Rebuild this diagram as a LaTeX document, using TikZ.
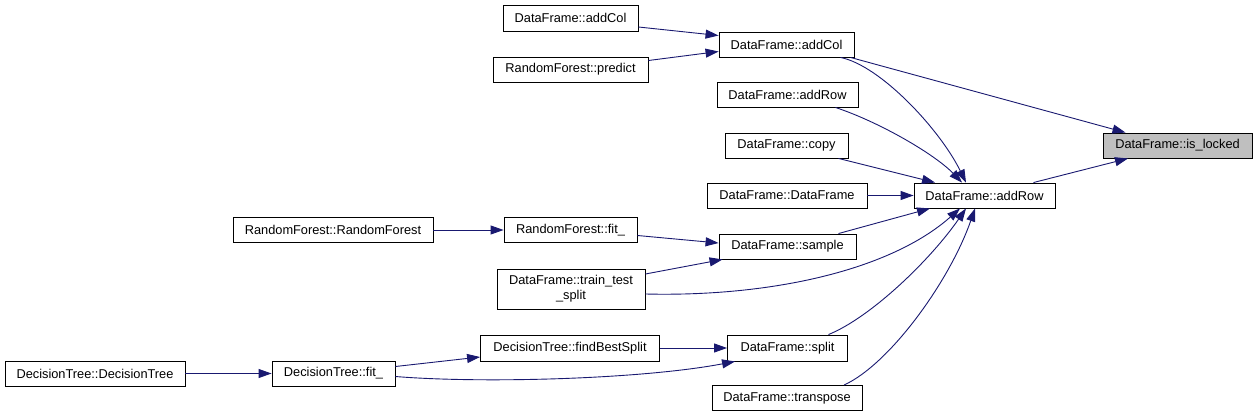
\documentclass[tikz,border=0pt]{standalone}
\usepackage{fontspec}
\setmainfont{Liberation Sans}
\usetikzlibrary{arrows.meta}
\definecolor{edgeblue}{HTML}{191970}
\definecolor{lockgray}{HTML}{BFBFBF}
\begin{document}
\begin{tikzpicture}[x=1pt,y=-1pt,
  fn/.style={draw=black, fill=white, line width=0.9pt, minimum height=25pt, inner sep=0pt,
    font=\fontsize{12.8}{15}\selectfont, anchor=center},
  call/.style={draw=edgeblue, line width=0.9pt, -{Triangle[length=13pt,width=9pt]}}
]
\useasboundingbox (0,0) rectangle (1257,417);

\node[fn, minimum width=135pt, minimum height=26pt] (addColL) at (570.5,18) {DataFrame::addCol};
\node[fn, minimum width=155pt] (predict) at (570.5,69.5) {RandomForest::predict};
\node[fn, minimum width=135pt] (addColM) at (786.5,44.5) {DataFrame::addCol};
\node[fn, minimum width=141pt] (addRowT) at (787.5,94.5) {DataFrame::addRow};
\node[fn, minimum width=123pt] (copy) at (786.5,145.5) {DataFrame::copy};
\node[fn, minimum width=160pt] (dfdf) at (787,195.5) {DataFrame::DataFrame};
\node[fn, minimum width=141pt] (addRowM) at (984.5,195.5) {DataFrame::addRow};
\node[fn, minimum width=137pt] (sample) at (787.5,246.5) {DataFrame::sample};
\node[fn, minimum width=200pt] (rfrf) at (333,230) {RandomForest::RandomForest};
\node[fn, minimum width=133pt] (rffit) at (570.5,230) {RandomForest::fit\_};
\node[fn, minimum width=148pt, minimum height=40pt, align=center] (tts) at (571,289) {DataFrame::train\_test\\\_split};
\node[fn, minimum width=179pt, minimum height=26pt] (fbs) at (570,348) {DecisionTree::findBestSplit};
\node[fn, minimum width=120pt, minimum height=26pt] (split) at (787.5,348) {DataFrame::split};
\node[fn, minimum width=180pt] (dtdt) at (95,373.5) {DecisionTree::DecisionTree};
\node[fn, minimum width=123pt] (dtfit) at (333.5,373.5) {DecisionTree::fit\_};
\node[fn, minimum width=150pt] (transpose) at (787,398) {DataFrame::transpose};
\node[fn, minimum width=149pt, fill=lockgray] (locked) at (1177.5,145.5) {DataFrame::is\_locked};

% edges into DataFrame::addCol
\draw[call] ([yshift=-9pt]addColL.east) -- ([yshift=9pt]addColM.west);
\draw[call] ([yshift=9pt]predict.east) -- ([yshift=-7pt]addColM.west);
% into is_locked
\draw[call] ([xshift=-4pt]addColM.south east) -- ([xshift=-52pt]locked.north);
\draw[call] ([xshift=-22pt]addRowM.north east) -- ([xshift=-49.5pt]locked.south);
% into DataFrame::addRow
\draw[call] ([xshift=-14pt]addColM.south east) .. controls +(40,8) and +(-26,-53) .. ([xshift=-18.5pt]addRowM.north);
\draw[call] ([xshift=-23pt]addRowT.south east) .. controls +(45,15) and +(-27,-28) .. ([xshift=-22.5pt]addRowM.north);
\draw[call] ([xshift=-10pt]copy.south east) -- ([xshift=-49.5pt]addRowM.north);
\draw[call] (dfdf.east) -- (addRowM.west);
\draw[call] ([xshift=-18pt]sample.north east) -- ([xshift=-54.5pt]addRowM.south);
\draw[call] ([yshift=-5pt]tts.east) .. controls +(125,3) and +(-70,62) .. ([xshift=-24.5pt]addRowM.south);
\draw[call] ([xshift=41pt]split.north) .. controls +(42,-17) and +(-36,52) .. ([xshift=-18.5pt]addRowM.south);
\draw[call] ([xshift=57pt]transpose.north) .. controls +(46,-21) and +(-25,72) .. ([xshift=-9.5pt]addRowM.south);
% into DataFrame::sample
\draw[call] (rfrf.east) -- (rffit.west);
\draw[call] ([yshift=-5.5pt]rffit.east) -- ([yshift=3.5pt]sample.west);
\draw[call] ([yshift=15pt]tts.east) -- ([xshift=4pt]sample.south west);
% decision tree
\draw[call] (dtdt.east) -- (dtfit.west);
\draw[call] ([yshift=7pt]dtfit.east) -- ([yshift=-9pt]fbs.west);
\draw[call] ([yshift=-3pt]dtfit.east) .. controls +(85,7) and +(-95,18) .. ([xshift=8pt]split.south west);
\draw[call] (fbs.east) -- (split.west);
\end{tikzpicture}
\end{document}
